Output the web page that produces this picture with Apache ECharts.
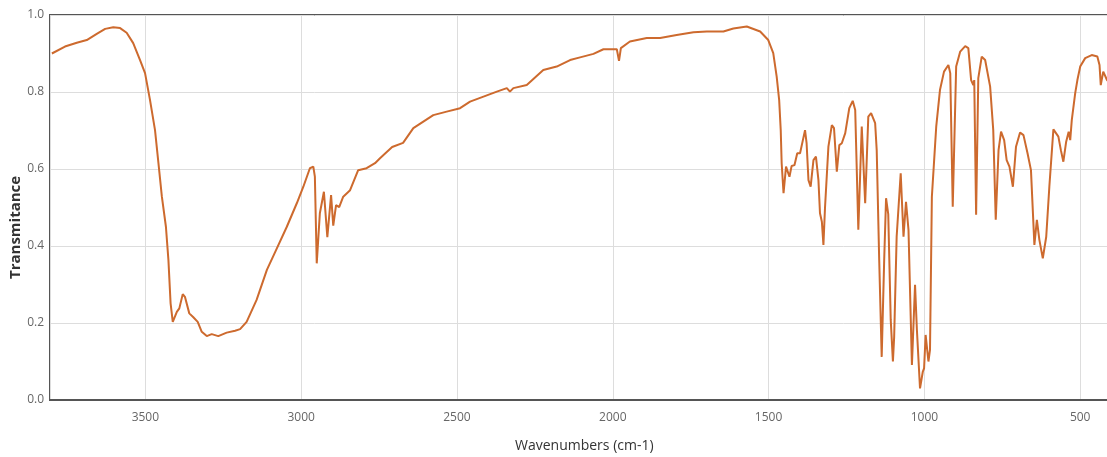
<!DOCTYPE html>
<html>
<head>
<meta charset="utf-8">
<script src="https://cdn.jsdelivr.net/npm/echarts@6/dist/echarts.min.js"></script>
<style>
  html, body { margin: 0; padding: 0; background: #ffffff; }
  #chart { width: 1107px; height: 457px; }
</style>
</head>
<body>
<div id="chart"></div>
<script>
// IR spectrum: wavenumber (cm-1) vs. transmittance
const wavenumbers = [
  3800, 3758, 3720, 3688, 3656, 3629, 3603, 3581, 3560, 3539, 3517, 3501, 3485, 3469, 3458, 3447,
  3434, 3426, 3419, 3412, 3399, 3391, 3380, 3373, 3359, 3346, 3332, 3319, 3303, 3287, 3266, 3239,
  3212, 3196, 3175, 3143, 3110, 3078, 3046, 3014, 2993, 2972, 2961, 2956, 2950, 2940, 2927, 2916,
  2904, 2897, 2888, 2878, 2865, 2843, 2817, 2790, 2763, 2747, 2708, 2673, 2640, 2576, 2533, 2490,
  2458, 2415, 2372, 2340, 2330, 2319, 2276, 2223, 2180, 2137, 2105, 2062, 2030, 1987, 1980, 1974,
  1945, 1891, 1848, 1795, 1741, 1698, 1645, 1613, 1570, 1527, 1501, 1485, 1474, 1466, 1461, 1458,
  1452, 1444, 1433, 1426, 1417, 1408, 1399, 1383, 1378, 1372, 1365, 1356, 1348, 1340, 1335, 1329,
  1324, 1319, 1313, 1308, 1297, 1290, 1281, 1273, 1265, 1254, 1241, 1230, 1222, 1212, 1201, 1190,
  1180, 1171, 1158, 1153, 1145, 1137, 1129, 1123, 1116, 1108, 1101, 1097, 1089, 1076, 1067, 1059,
  1051, 1040, 1030, 1024, 1014, 1005, 1001, 996, 987, 982, 976, 962, 950, 937, 923, 917,
  909, 898, 885, 869, 859, 850, 843, 840, 834, 827, 816, 805, 789, 779, 771, 762,
  754, 744, 736, 727, 716, 706, 693, 682, 669, 658, 647, 639, 631, 620, 609, 599,
  586, 570, 562, 554, 545, 541, 537, 532, 527, 516, 509, 500, 484, 463, 445, 438,
  434, 426, 414, 400
];
const transmittance = [
  0.900, 0.918, 0.928, 0.935, 0.951, 0.964, 0.968, 0.966, 0.954, 0.927, 0.883, 0.849, 0.779, 0.701, 0.615, 0.528,
  0.450, 0.364, 0.251, 0.203, 0.229, 0.238, 0.275, 0.268, 0.225, 0.215, 0.203, 0.177, 0.166, 0.171, 0.166, 0.175,
  0.180, 0.184, 0.203, 0.260, 0.338, 0.394, 0.450, 0.511, 0.554, 0.602, 0.606, 0.580, 0.355, 0.485, 0.541, 0.423,
  0.532, 0.453, 0.506, 0.501, 0.528, 0.545, 0.597, 0.602, 0.615, 0.628, 0.657, 0.668, 0.706, 0.740, 0.749, 0.758,
  0.775, 0.788, 0.801, 0.810, 0.801, 0.810, 0.818, 0.857, 0.866, 0.883, 0.890, 0.899, 0.911, 0.911, 0.881, 0.914,
  0.931, 0.940, 0.940, 0.948, 0.955, 0.957, 0.957, 0.965, 0.970, 0.957, 0.935, 0.901, 0.840, 0.779, 0.701, 0.615,
  0.537, 0.606, 0.580, 0.608, 0.610, 0.641, 0.641, 0.701, 0.667, 0.571, 0.554, 0.623, 0.632, 0.571, 0.485, 0.463,
  0.403, 0.498, 0.502, 0.658, 0.714, 0.706, 0.593, 0.662, 0.667, 0.693, 0.758, 0.777, 0.753, 0.442, 0.710, 0.511,
  0.736, 0.745, 0.719, 0.649, 0.364, 0.112, 0.364, 0.524, 0.483, 0.208, 0.100, 0.164, 0.424, 0.589, 0.424, 0.515,
  0.442, 0.091, 0.299, 0.182, 0.030, 0.074, 0.082, 0.169, 0.100, 0.130, 0.528, 0.710, 0.805, 0.853, 0.870, 0.849,
  0.502, 0.866, 0.905, 0.919, 0.914, 0.831, 0.818, 0.831, 0.481, 0.836, 0.892, 0.883, 0.814, 0.701, 0.468, 0.649,
  0.697, 0.675, 0.623, 0.606, 0.554, 0.658, 0.695, 0.688, 0.641, 0.597, 0.403, 0.468, 0.416, 0.368, 0.424, 0.554,
  0.703, 0.684, 0.649, 0.619, 0.671, 0.675, 0.697, 0.675, 0.727, 0.797, 0.831, 0.866, 0.888, 0.896, 0.892, 0.870,
  0.818, 0.853, 0.831, 0.820
];
const yTicks = [0, 0.2, 0.4, 0.6, 0.8, 1.0];

const points = wavenumbers.map((w, i) => [w, transmittance[i]]);

const chart = echarts.init(document.getElementById('chart'), null, { renderer: 'canvas' });
const font = '"Open Sans", "Noto Sans", sans-serif';

chart.setOption({
  animation: false,
  backgroundColor: '#ffffff',
  // the plotting area runs on past the right edge of the page; the low-wavenumber end is cut off
  grid: {
    left: 50, top: 15, width: 1186, height: 385,
    outerBoundsMode: 'none', containLabel: false,
    show: true, borderColor: '#555555', borderWidth: 2, backgroundColor: 'transparent'
  },
  xAxis: {
    type: 'value', inverse: true, min: 0, max: 3806, interval: 500,
    axisLine: { show: true, lineStyle: { color: '#555555', width: 2 } },
    axisTick: { show: false },
    splitLine: { show: true, lineStyle: { color: '#dddddd', width: 1 } },
    axisLabel: {
      color: '#666666', fontSize: 12, fontFamily: font, margin: 12,
      showMaxLabel: false, showMinLabel: false, formatter: v => String(v)
    }
  },
  yAxis: {
    type: 'value', min: yTicks[0], max: yTicks[yTicks.length - 1], interval: 0.2,
    axisLine: { show: true, lineStyle: { color: '#555555', width: 2 } },
    axisTick: { show: false },
    splitLine: { show: true, lineStyle: { color: '#dddddd', width: 1 } },
    axisLabel: { color: '#666666', fontSize: 12, fontFamily: font, margin: 6, formatter: v => v.toFixed(1) }
  },
  graphic: [
    {
      type: 'text', left: 515, top: 439,
      style: { text: 'Wavenumbers (cm-1)', fill: '#333333', font: '14px ' + font }
    },
    {
      type: 'text', x: 8, y: 279, rotation: Math.PI / 2,
      style: { text: 'Transmitance', fill: '#333333', font: 'bold 15px ' + font }
    }
  ],
  series: [{
    type: 'line',
    data: points,
    showSymbol: false,
    smooth: false,
    lineStyle: { color: '#cd6a2e', width: 2 },
    clip: true
  }]
});
</script>
</body>
</html>
